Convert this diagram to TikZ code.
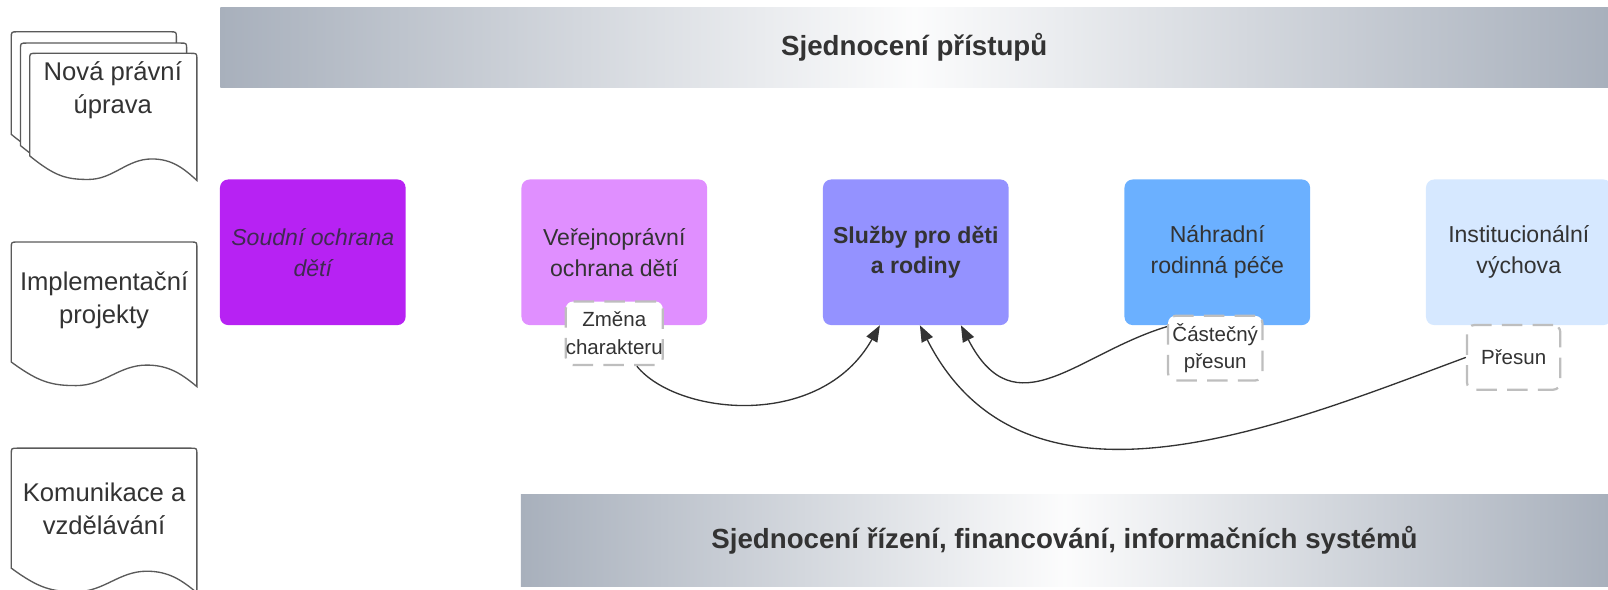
\documentclass[tikz,border=0pt]{standalone}
\usepackage{fontspec}
\setmainfont{Liberation Sans}
\usetikzlibrary{arrows.meta,calc}
\definecolor{bgray}{RGB}{168,176,188}
\definecolor{txt}{RGB}{51,51,51}
\definecolor{cA}{RGB}{183,34,243}
\definecolor{cB}{RGB}{224,143,255}
\definecolor{cC}{RGB}{148,146,255}
\definecolor{cD}{RGB}{107,176,255}
\definecolor{cE}{RGB}{214,232,255}
\definecolor{txtA}{RGB}{64,42,82}
\definecolor{docline}{RGB}{90,90,90}
\definecolor{dashgray}{RGB}{190,190,190}
\newcommand\docshape[4]{%
  \draw[docborder] (#1,#4)
   .. controls ({#1+0.15*(#3-#1)},{#4+20}) and ({#1+0.22*(#3-#1)},{#4+23}) .. ({#1+0.35*(#3-#1)},{#4+23})
   .. controls ({#1+0.5*(#3-#1)},{#4+23}) and ({#1+0.58*(#3-#1)},{#4+3}) .. ({#1+0.73*(#3-#1)},{#4+3})
   .. controls ({#1+0.85*(#3-#1)},{#4+3}) and ({#1+0.92*(#3-#1)},{#4+12}) .. (#3,{#4+24})
   -- (#3,{#2+6}) .. controls (#3,#2) .. ({#3-6},#2)
   -- ({#1+6},#2) .. controls (#1,#2) .. (#1,{#2+6}) -- cycle;}
\begin{document}
\begin{tikzpicture}[x=1pt,y=-1pt,
  docborder/.style={draw=docline,line width=1.3pt,fill=white},
  doctext/.style={text=txt,align=center,font=\fontsize{25}{32}\selectfont},
  banner/.style={left color=bgray,right color=bgray,middle color=white!96!bgray,
    text=txt,font=\fontsize{27}{32}\selectfont\bfseries,inner sep=0pt},
  cbox/.style={rounded corners=8pt,minimum width=181pt,minimum height=142pt,
    inner sep=0pt,align=center,text=txt,font=\fontsize{22.5}{30}\selectfont},
  dbox/.style={draw=dashgray,line width=2.2pt,dash pattern=on 20pt off 10pt,
    rounded corners=7pt,fill=white,inner sep=0pt,align=center,text=txt,
    font=\fontsize{20}{27}\selectfont},
  conn/.style={draw=txt,line width=1.3pt,-{Triangle[length=16pt,width=12pt]}}]
\useasboundingbox (0,0) rectangle (1568,575);
% banners
\node[banner,minimum width=1353pt,minimum height=78pt] (top) at (891.5,46.5) {Sjednocení přístupů};
\node[banner,minimum width=1060pt,minimum height=90pt] (bot) at (1038,527) {Sjednocení řízení, financování, informačních systémů};
% documents
\docshape{11}{31}{172}{131}
\docshape{20}{42}{182}{142}
\docshape{29}{52}{192}{152}
\node[doctext] (law) at (110,88) {Nová právní\\úprava};
\docshape{11}{236}{192}{353}
\node[doctext] (impl) at (101.5,292.5) {Implementační\\projekty};
\docshape{11}{437}{192}{554}
\node[doctext] (comm) at (101.5,496) {Komunikace a\\vzdělávání};
% coloured boxes
\node[cbox,fill=cA,text=txtA,font=\fontsize{22.5}{30}\selectfont\itshape] (b1) at (305,246) {Soudní ochrana\\dětí};
\node[cbox,fill=cB] (b2) at (599,246) {Veřejnoprávní\\ochrana dětí};
\node[cbox,fill=cC,font=\fontsize{22.5}{30}\selectfont\bfseries] (b3) at (893,246) {Služby pro děti\\a rodiny};
\node[cbox,fill=cD] (b4) at (1187,246) {Náhradní\\rodinná péče};
\node[cbox,fill=cE] (b5) at (1481,246) {Institucionální\\výchova};
% dashed labels
\node[dbox,minimum width=90pt,minimum height=62pt] (zm) at (599,325) {Změna\\charakteru};
\node[dbox,minimum width=92pt,minimum height=63pt] (cp) at (1185,339.5) {Částečný\\přesun};
\node[dbox,minimum width=91pt,minimum height=63pt] (pr) at (1476,348.5) {Přesun};
% connectors
\draw[conn] ($(zm.south)+(22,0)$) .. controls (660,405) and (800,420) .. ($(b3.south)+(-35,0)$);
\draw[conn] ($(cp.west)+(0,-21)$) .. controls (1050,345) and (990,420) .. ($(b3.south)+(44,0)$);
\draw[conn] (pr.west) .. controls (1250,415) and (1000,520) .. ($(b3.south)+(4,0)$);
\end{tikzpicture}
\end{document}
